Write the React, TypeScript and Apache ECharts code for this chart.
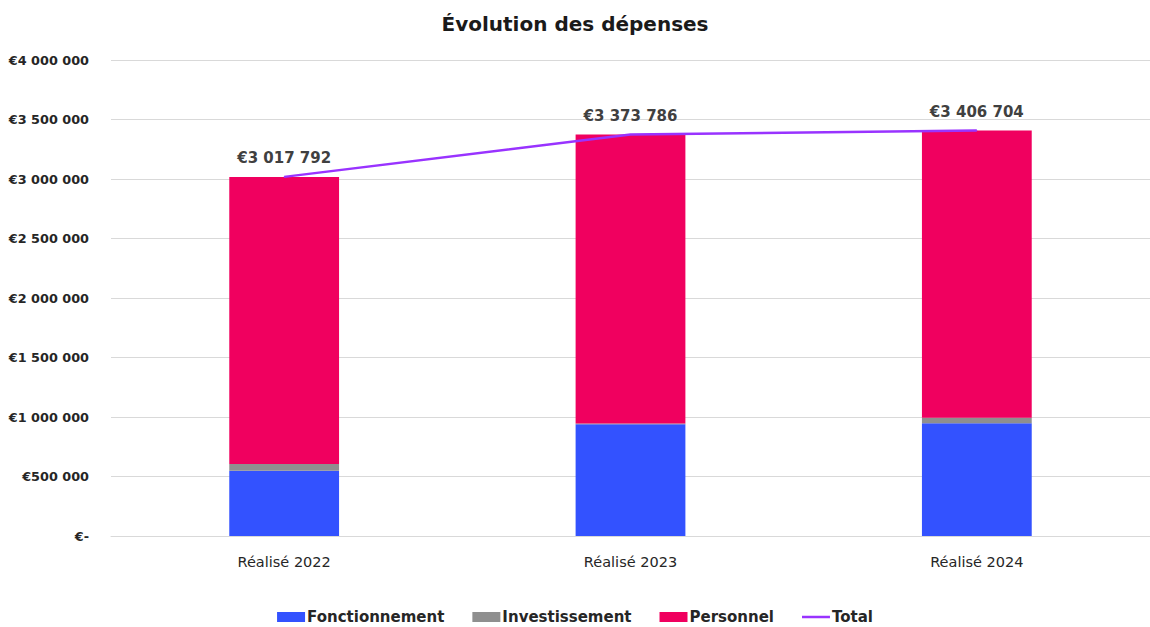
import React, { useEffect, useRef } from "react";
import * as echarts from "echarts";

const categories = ["Réalisé 2022", "Réalisé 2023", "Réalisé 2024"];
const fonctionnement = [549000, 939000, 947000];
const investissement = [56000, 6000, 47000];
const personnel = [2412792, 2428786, 2412704];
const total = [3017792, 3373786, 3406704];
const yTicks = [0, 500000, 1000000, 1500000, 2000000, 2500000, 3000000, 3500000, 4000000];

const FONT = "'DejaVu Sans', sans-serif";

function fmtEuro(v: number): string {
  if (v === 0) return "€-";
  const s = Math.round(v).toString().replace(/\B(?=(\d{3})+(?!\d))/g, " ");
  return "€" + s;
}

export default function App() {
  const ref = useRef<HTMLDivElement>(null);
  useEffect(() => {
    if (!ref.current) return;
    const chart = echarts.init(ref.current, undefined, { renderer: "svg" });
    chart.setOption({
      animation: false,
      backgroundColor: "#ffffff",
      title: {
        text: "Évolution des dépenses",
        left: "center",
        top: 9,
        textStyle: { fontFamily: FONT, fontSize: 20, fontWeight: "bold", color: "#1a1a1a" },
      },
      grid: { left: 111, right: 0, top: 60, bottom: 91, containLabel: false },
      legend: {
        top: 609,
        left: "center",
        padding: 0,
        itemWidth: 28,
        itemHeight: 10,
        itemGap: 28,
        textStyle: {
          fontFamily: FONT,
          fontSize: 15,
          lineHeight: 16,
          fontWeight: "bold",
          color: "#262626",
          padding: [0, 0, 0, -3],
        },
        data: [
          { name: "Fonctionnement", icon: "rect" },
          { name: "Investissement", icon: "rect" },
          { name: "Personnel", icon: "rect" },
          { name: "Total", icon: "path://M0,0H28V2.5H0Z" },
        ],
      },
      xAxis: {
        type: "category",
        data: categories,
        axisLine: { show: true, lineStyle: { color: "#d9d9d9", width: 1 } },
        axisTick: { show: false },
        axisLabel: { fontFamily: FONT, fontSize: 14.5, color: "#262626", margin: 18 },
      },
      yAxis: {
        type: "value",
        min: 0,
        max: 4000000,
        interval: 500000,
        axisLine: { show: false },
        axisTick: { show: false },
        splitLine: { lineStyle: { color: "#d9d9d9", width: 1 } },
        axisLabel: {
          fontFamily: FONT,
          fontSize: 12.8,
          fontWeight: "bold",
          color: "#262626",
          margin: 22,
          formatter: (v: number) => (yTicks.includes(v) ? fmtEuro(v) : ""),
        },
      },
      series: [
        {
          name: "Fonctionnement",
          type: "bar",
          stack: "s",
          data: fonctionnement,
          barWidth: "31.7%",
          itemStyle: { color: "#3352ff" },
        },
        {
          name: "Investissement",
          type: "bar",
          stack: "s",
          data: investissement,
          itemStyle: { color: "#8f8f8f" },
        },
        {
          name: "Personnel",
          type: "bar",
          stack: "s",
          data: personnel,
          itemStyle: { color: "#f0005f" },
        },
        {
          name: "Total",
          type: "line",
          data: total,
          symbol: "circle",
          symbolSize: 1,
          showSymbol: true,
          lineStyle: { color: "#9933ff", width: 2.5 },
          itemStyle: { color: "#9933ff" },
          label: {
            show: true,
            position: "top",
            distance: 11,
            fontFamily: FONT,
            fontSize: 15,
            fontWeight: "bold",
            color: "#404040",
            formatter: (p: any) => fmtEuro(p.value),
          },
          z: 5,
        },
      ],
    });
    return () => chart.dispose();
  }, []);
  return (
    <div
      ref={ref}
      style={{ position: "fixed", left: 0, top: 0, width: 1150, height: 627 }}
    />
  );
}
